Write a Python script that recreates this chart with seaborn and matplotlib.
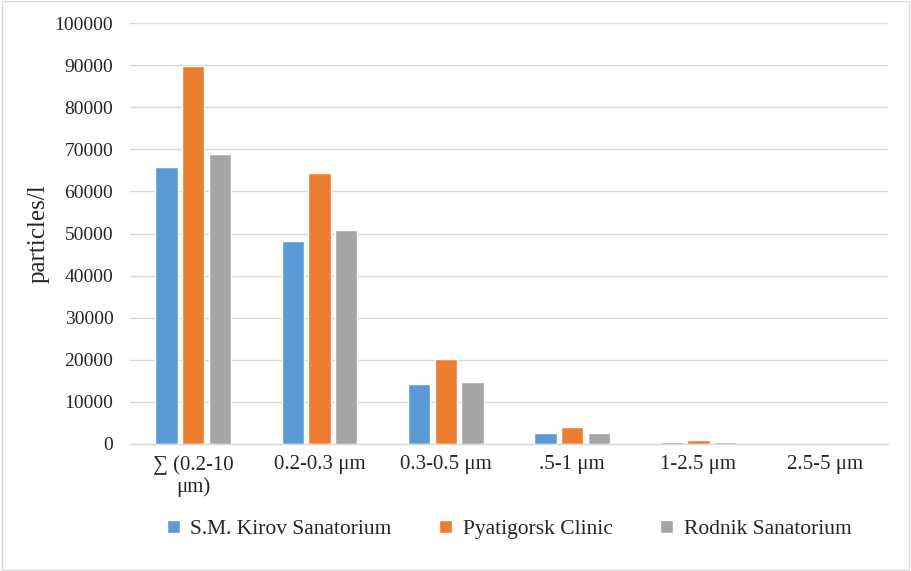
import pandas as pd
import numpy as np
import matplotlib
matplotlib.use('Agg')
import matplotlib.pyplot as plt
import seaborn as sns

categories = ['\u2211 (0.2-10\n\u03bcm)', '0.2-0.3 \u03bcm', '0.3-0.5 \u03bcm', '.5-1 \u03bcm', '1-2.5 \u03bcm', '2.5-5 \u03bcm']
series_names = ['S.M. Kirov Sanatorium', 'Pyatigorsk Clinic', 'Rodnik Sanatorium']
kirov = [65800, 48200, 14250, 2600, 400, 30]
pyatigorsk = [89800, 64400, 20200, 4000, 900, 50]
rodnik = [68900, 50800, 14700, 2600, 450, 30]
colors = ['#5B9BD5', '#ED7D31', '#A5A5A5']

df = pd.DataFrame({
    'cat': categories * 3,
    'series': np.repeat(series_names, len(categories)),
    'value': kirov + pyatigorsk + rodnik,
})

sns.set_style('white')
plt.rcParams['font.family'] = ['Liberation Serif', 'DejaVu Serif']

fig = plt.figure(figsize=(9.11, 5.71), dpi=100)
ax = fig.add_axes([130 / 911, 127 / 571, 758 / 911, 421 / 571])

sns.barplot(data=df, x='cat', y='value', hue='series', palette=colors,
            width=0.63, gap=0.16, ax=ax, saturation=1)

ax.set_ylim(0, 100000)
ax.set_yticks(np.arange(0, 100001, 10000))
ax.set_xlim(-0.5, len(categories) - 0.5)
ax.yaxis.grid(True, color='#D9D9D9', linewidth=1)
ax.set_axisbelow(True)
for s in ['top', 'right', 'left']:
    ax.spines[s].set_visible(False)
ax.spines['bottom'].set_color('#D9D9D9')
ax.spines['bottom'].set_linewidth(1)

ax.set_xticks(np.arange(-0.5, len(categories)), minor=True)
ax.tick_params(axis='x', which='minor', length=6, color='#D9D9D9', width=1)
ax.tick_params(axis='x', which='major', length=0, labelsize=15, pad=8)
ax.tick_params(axis='y', length=0, labelsize=14, pad=12)
ax.set_xlabel('')
ax.set_ylabel('particles/l', fontsize=18, labelpad=4)

handles, labels = ax.get_legend_handles_labels()
ax.legend(handles, labels, loc='center', bbox_to_anchor=(0.5, -0.203), ncol=3,
          frameon=False, fontsize=15.5, handlelength=0.6, handleheight=0.6,
          columnspacing=2.2, handletextpad=0.5)

fig.patches.append(plt.Rectangle((0.002, 0.002), 0.996, 0.996, transform=fig.transFigure,
                                 fill=False, edgecolor='#D9D9D9', linewidth=1))

fig.savefig('out.png', dpi=100)
